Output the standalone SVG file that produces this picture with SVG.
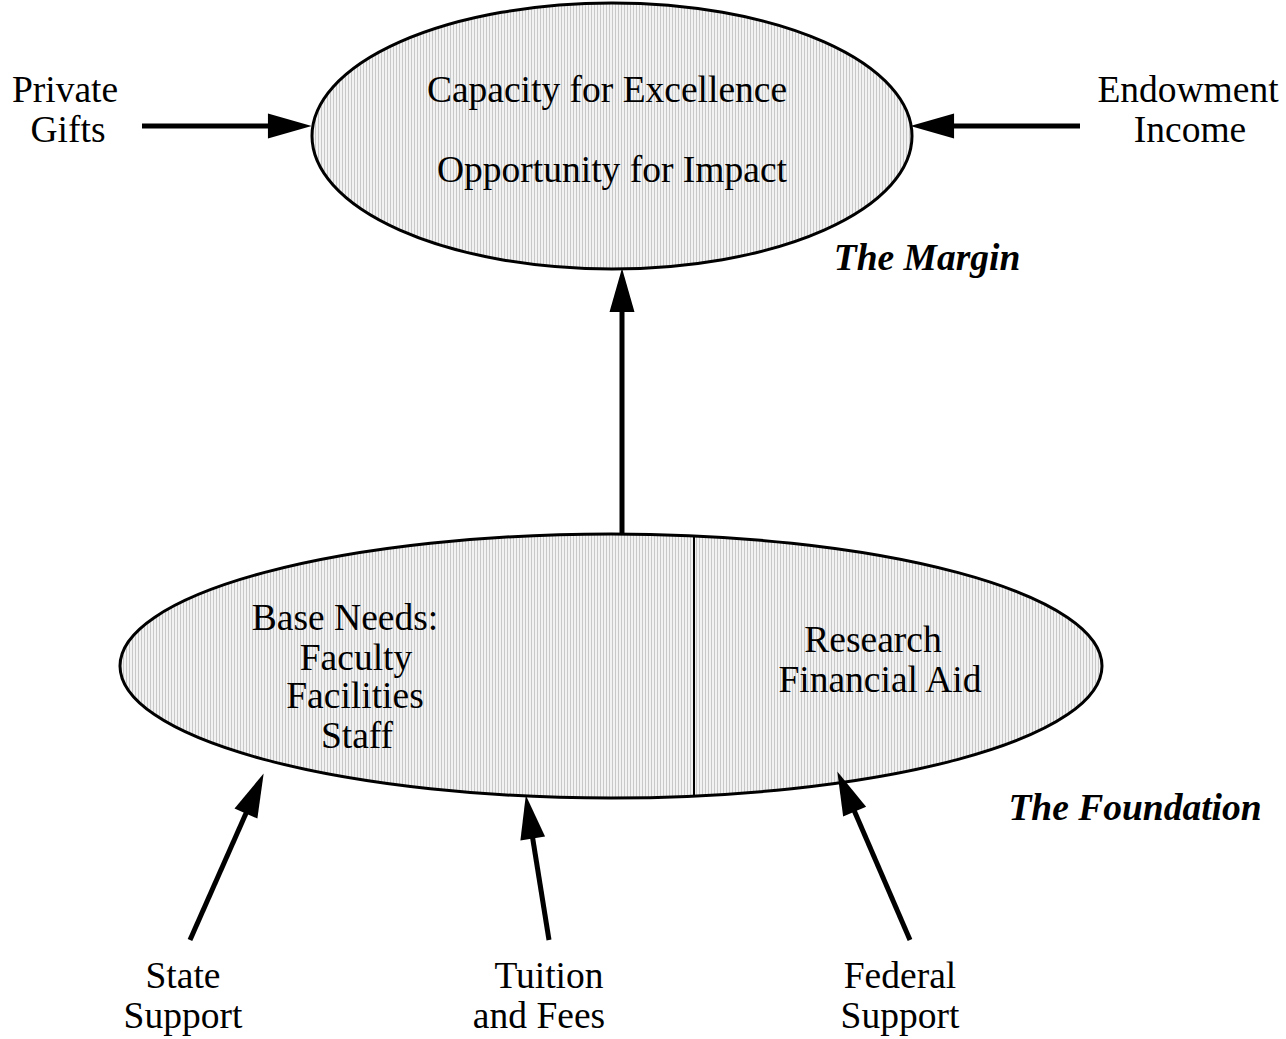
<svg xmlns="http://www.w3.org/2000/svg" width="1286" height="1039" viewBox="0 0 1286 1039">
<defs>
<pattern id="hatch" width="3" height="3" patternUnits="userSpaceOnUse">
<rect width="3" height="3" fill="#f2f2f2"/>
<rect x="0" y="0" width="1" height="3" fill="#c8c8c8"/>
</pattern>
<marker id="ah" markerUnits="userSpaceOnUse" markerWidth="50" markerHeight="30" viewBox="-4 -14 48 28" refX="0" refY="0" orient="auto">
<path d="M-2,-12 L40,0 L-2,12 Z" fill="#000"/>
</marker>
</defs>
<style>
.node{fill:url(#hatch);stroke:#000;stroke-width:3}
.t{font-family:"Liberation Serif","Times New Roman",serif;font-size:37.5px;fill:#000;text-anchor:middle}
.bi{font-weight:bold;font-style:italic}
.c{stroke:#000;stroke-width:5;fill:none;marker-end:url(#ah)}
</style>
<rect width="1286" height="1039" fill="#fff"/>
<g id="margin">
<ellipse class="node" cx="612" cy="136" rx="300" ry="133"/>
<text class="t" x="607" y="102">Capacity for Excellence</text>
<text class="t" x="612" y="182">Opportunity for Impact</text>
</g>
<g id="margin-label">
<text class="t bi" x="927" y="270">The Margin</text>
</g>
<g id="foundation">
<ellipse class="node" cx="611" cy="666" rx="491" ry="132"/>
<line x1="694" y1="535" x2="694" y2="797" stroke="#000" stroke-width="2"/>
<text class="t" x="345" y="630">Base Needs:</text>
<text class="t" x="356" y="670">Faculty</text>
<text class="t" x="355" y="708">Facilities</text>
<text class="t" x="357" y="748">Staff</text>
<text class="t" x="873" y="652">Research</text>
<text class="t" x="880" y="692">Financial Aid</text>
</g>
<g id="foundation-label">
<text class="t bi" x="1135" y="820">The Foundation</text>
</g>
<g id="private-gifts">
<text class="t" x="65" y="102">Private</text>
<text class="t" x="68" y="142">Gifts</text>
</g>
<g id="endowment-income">
<text class="t" x="1188" y="102">Endowment</text>
<text class="t" x="1190" y="142">Income</text>
</g>
<g id="state-support">
<text class="t" x="183" y="988">State</text>
<text class="t" x="183" y="1028">Support</text>
</g>
<g id="tuition-fees">
<text class="t" x="549" y="988">Tuition</text>
<text class="t" x="539" y="1028">and Fees</text>
</g>
<g id="federal-support">
<text class="t" x="900" y="988">Federal</text>
<text class="t" x="900" y="1028">Support</text>
</g>
<g id="connectors">
<line class="c" x1="142" y1="126" x2="270" y2="126"/>
<line class="c" x1="1080" y1="126" x2="952" y2="126"/>
<line class="c" x1="622" y1="535" x2="622" y2="310"/>
<line class="c" x1="190" y1="940" x2="246.8" y2="811.6"/>
<line class="c" x1="549" y1="940" x2="532.4" y2="836.5"/>
<line class="c" x1="910" y1="940" x2="853.8" y2="809.7"/>
</g>
</svg>
